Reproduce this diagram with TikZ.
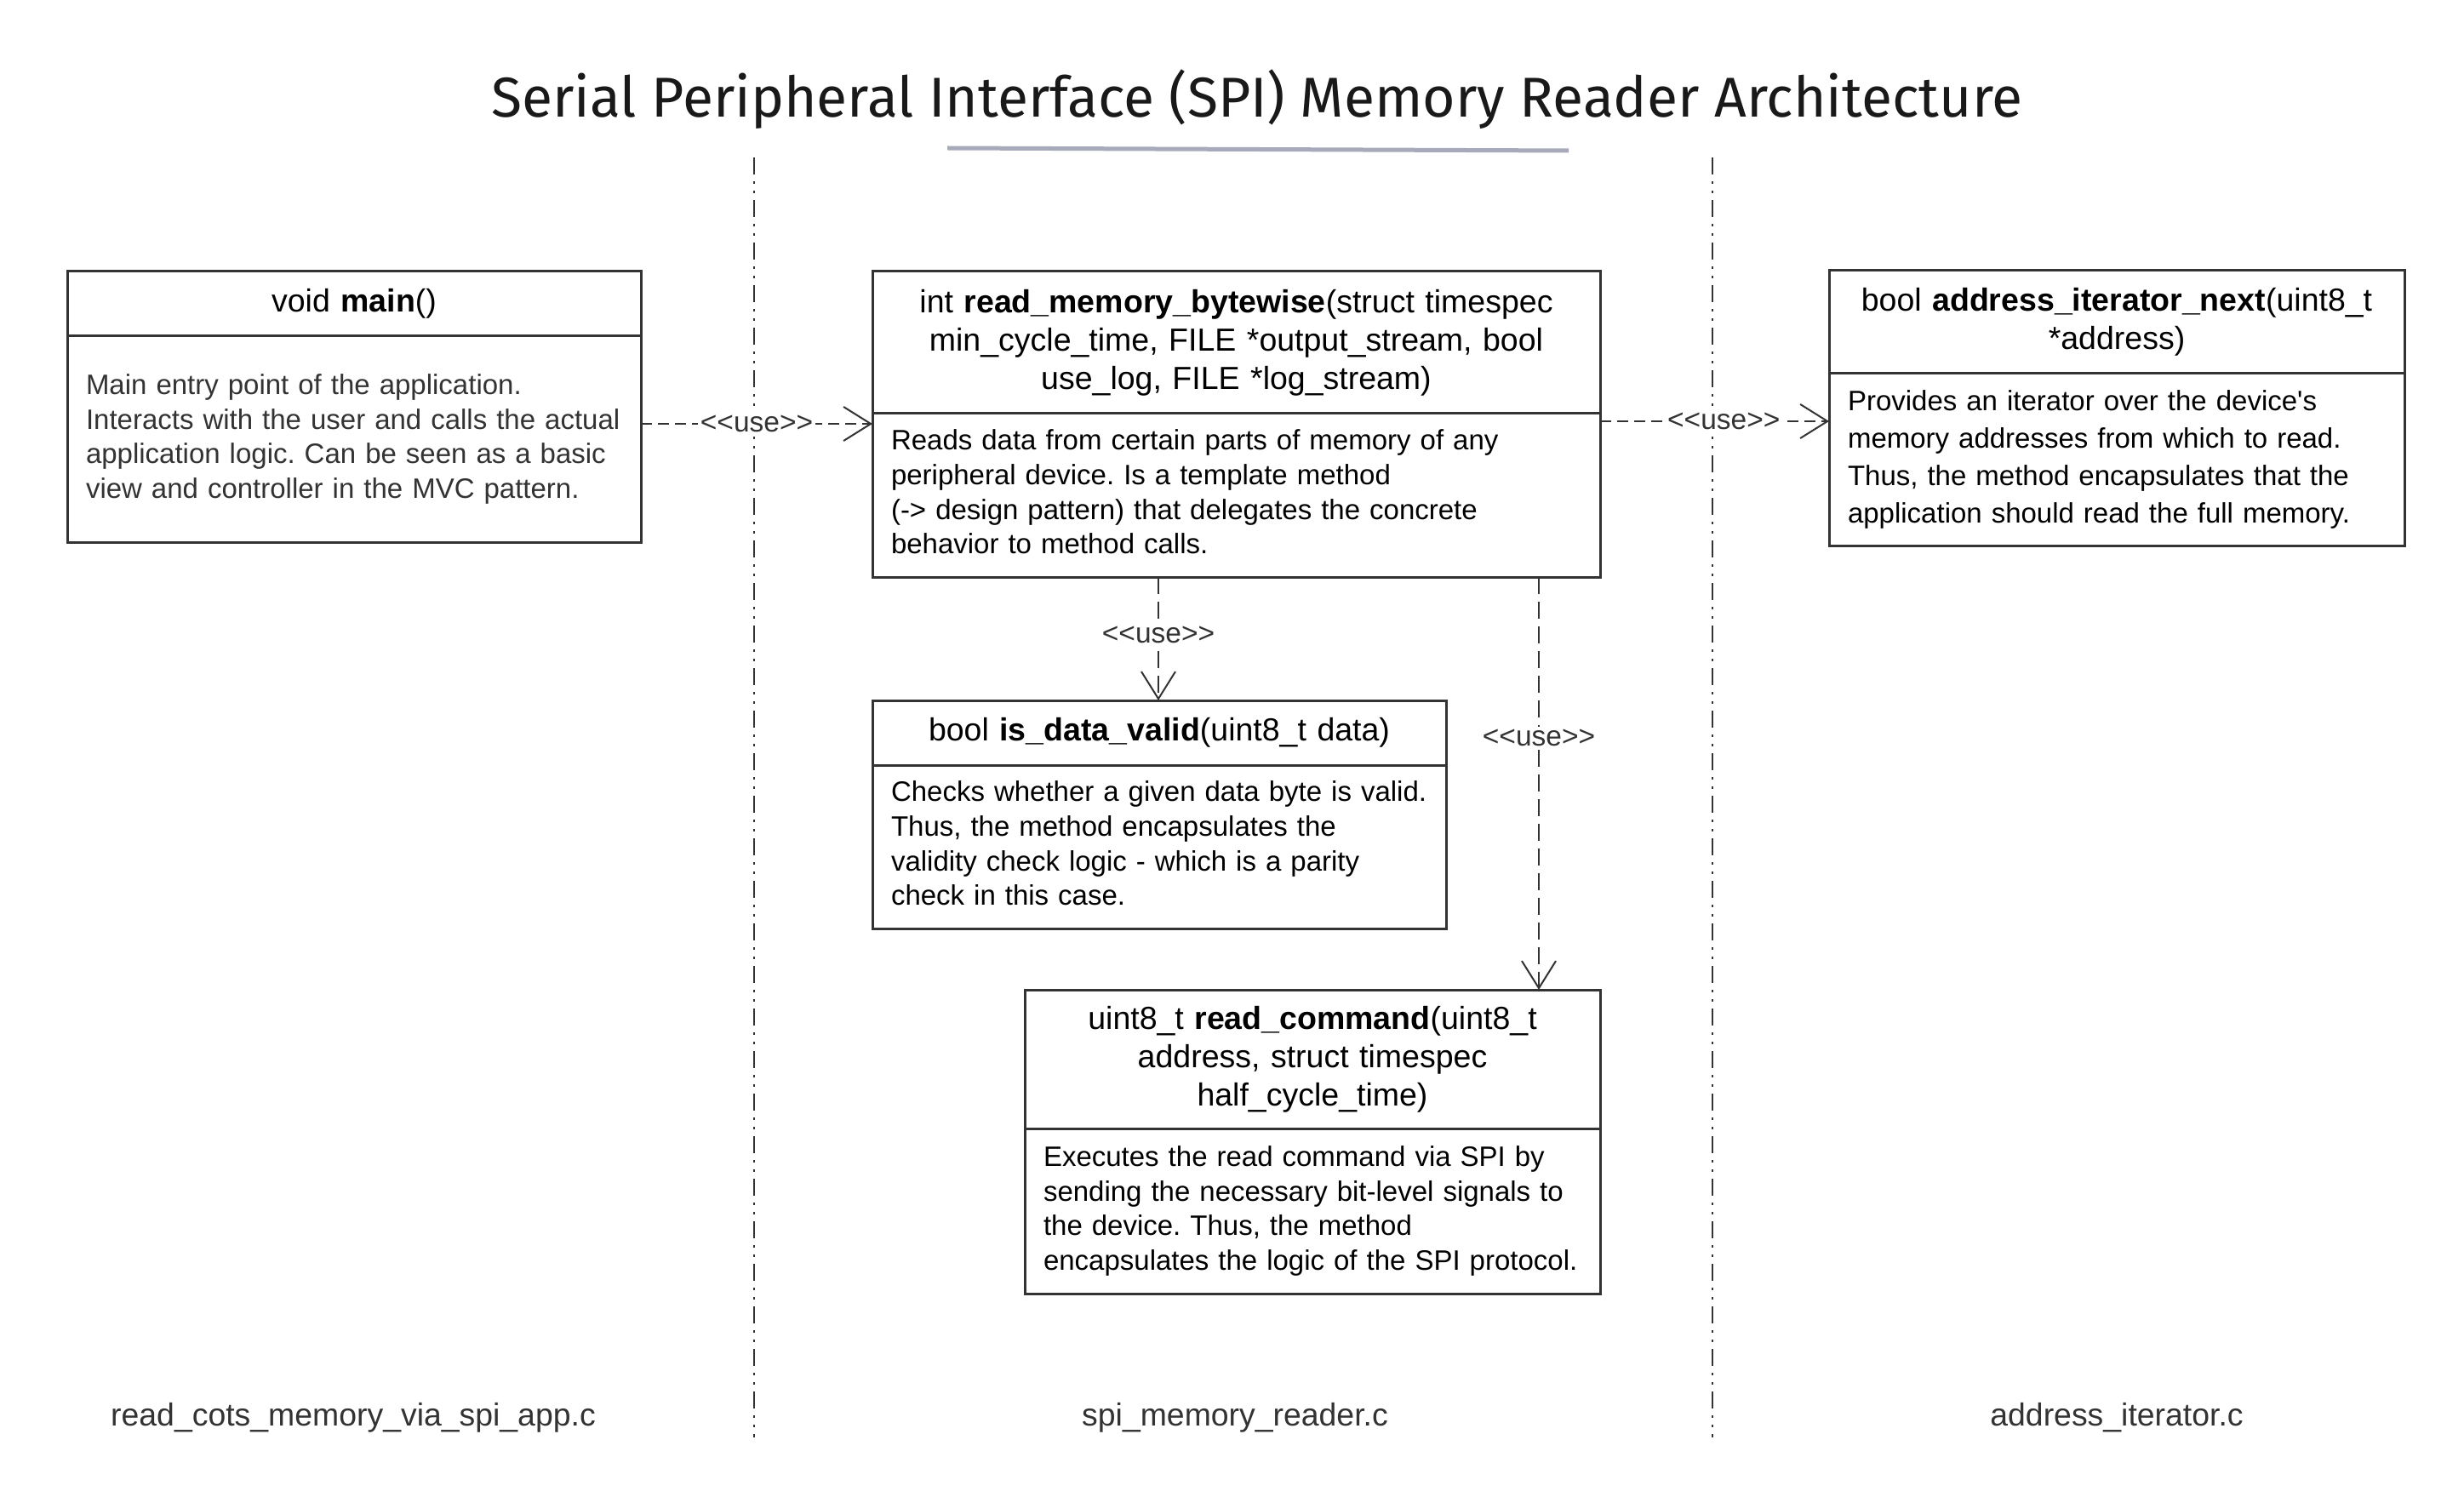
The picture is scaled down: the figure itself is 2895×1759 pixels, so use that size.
\documentclass[tikz,border=0pt]{standalone}
\usepackage{fontspec}
\setmainfont{Liberation Sans}
\newfontfamily\arialish{Liberation Sans}
\newfontfamily\titlefont{Fira Sans}
\usetikzlibrary{arrows.meta}
\definecolor{ln}{HTML}{333333}
\definecolor{uline}{RGB}{166,170,186}
\newcommand\oneline[1]{\mbox{#1}}
\newcommand\uselabel{<\kern0pt<use>\kern0pt>}
\frenchspacing
\begin{document}
\frenchspacing
\begin{tikzpicture}[x=0.5pt,y=-0.5pt,
  hdr/.style={draw=ln, line width=1.5pt, anchor=north west, outer sep=0pt, inner sep=0pt,
    align=center, font=\arialish\frenchspacing\fontsize{18.75}{22.5}\selectfont},
  bdy/.style={draw=ln, line width=1.5pt, anchor=north west, outer sep=0pt, inner xsep=11pt,
    inner ysep=0pt, align=left, font=\arialish\frenchspacing\fontsize{16.5}{20.3}\selectfont},
  dep/.style={draw=ln, line width=1pt, dash pattern=on 6.5pt off 3.5pt,
    -{Straight Barb[length=16pt,width=20pt,line width=1pt]}},
  vdep/.style={dep, dash pattern=on 10pt off 4.5pt},
  lbl/.style={fill=white, text=ln, inner sep=1.5pt, font=\arialish\fontsize{16.75}{20}\selectfont},
  lane/.style={draw=ln, line width=1.35pt,
    dash pattern=on 10pt off 4pt on 1.5pt off 4pt on 1.5pt off 4pt},
  fname/.style={text=ln, font=\arialish\fontsize{18.7}{22}\selectfont}]

\fill[white] (0,0) rectangle (2895,1759);
\useasboundingbox (0,0) rectangle (2895,1759);

% title
\node[anchor=base, text=black!90, font=\titlefont\fontsize{33}{40}\selectfont] (title) at (1477,138)
  {Serial Peripheral Interface (SPI) Memory Reader Architecture};
\draw[uline, line width=2.5pt] (1113,174) -- (1843,177);

% swimlane separators
\draw[lane] (886,185) -- (886,1689);
\draw[lane] (2012,185) -- (2012,1689);

% main
\node[hdr, text width=337pt, minimum height=38pt] (mainH) at (79,319) {void \textbf{main}()};
\node[bdy, text=ln, text width=315pt, minimum height=121pt] (mainB) at (mainH.south west)
  {\oneline{Main entry point of the application.}\\
   \oneline{Interacts with the user and calls the actual}\\
   \oneline{application logic. Can be seen as a basic}\\
   \oneline{view and controller in the MVC pattern.}};

% read_memory_bytewise
\node[hdr, text width=427.5pt, minimum height=83.5pt] (rmH) at (1025,319)
  {int \textbf{read\_memory\_bytewise}(struct timespec\\
   min\_cycle\_time, FILE *output\_stream, bool\\
   use\_log, FILE *log\_stream)};
\node[bdy, text width=405.5pt, minimum height=96pt] (rmB) at (rmH.south west)
  {\oneline{Reads data from certain parts of memory of any}\\
   \oneline{peripheral device. Is a template method}\\
   \oneline{(-> design pattern) that delegates the concrete}\\
   \oneline{behavior to method calls.}\vspace{4pt}};

% address_iterator_next
\node[hdr, text width=338pt, minimum height=60.5pt] (adH) at (2149,318)
  {bool \textbf{address\_iterator\_next}(uint8\_t\\{}*address)};
\node[bdy, text width=316pt, minimum height=101pt, font=\arialish\frenchspacing\fontsize{16.5}{22}\selectfont] (adB) at (adH.south west)
  {\oneline{Provides an iterator over the device's}\\
   \oneline{memory addresses from which to read.}\\
   \oneline{Thus, the method encapsulates that the}\\
   \oneline{application should read the full memory.}};

% is_data_valid
\node[hdr, text width=337pt, minimum height=38pt] (vaH) at (1025,823)
  {bool \textbf{is\_data\_valid}(uint8\_t data)};
\node[bdy, text width=315pt, minimum height=96pt] (vaB) at (vaH.south west)
  {\oneline{Checks whether a given data byte is valid.}\\
   \oneline{Thus, the method encapsulates the}\\
   \oneline{validity check logic - which is a parity}\\
   \oneline{check in this case.}\vspace{4pt}};

% read_command
\node[hdr, text width=338pt, minimum height=81.5pt] (rcH) at (1204,1163)
  {uint8\_t \textbf{read\_command}(uint8\_t\\ address, struct timespec\\ half\_cycle\_time)};
\node[bdy, text width=316pt, minimum height=97pt] (rcB) at (rcH.south west)
  {\oneline{Executes the read command via SPI by}\\
   \oneline{sending the necessary bit-level signals to}\\
   \oneline{the device. Thus, the method}\\
   \oneline{encapsulates the logic of the SPI protocol.}};

% helper coordinates for connector lines
\coordinate (y1) at (0,498);
\coordinate (y2) at (0,495);
\coordinate (x3) at (1361,0);
\coordinate (x4) at (1808,0);

% connectors
\draw[dep] (mainB.east |- y1) -- node[lbl, pos=0.5] {\uselabel} (rmB.west |- y1);
\draw[dep] (rmB.east |- y2) -- node[lbl, pos=0.54] {\uselabel} (adB.west |- y2);
\draw[vdep] (rmB.south -| x3) -- node[lbl, pos=0.47] {\uselabel} (vaH.north -| x3);
\draw[vdep] (rmB.south -| x4) -- node[lbl, pos=0.39] {\uselabel} (rcH.north -| x4);

% file names
\node[fname] (f1) at (415,1666) {read\_cots\_memory\_via\_spi\_app.c};
\node[fname] (f2) at (1451,1666) {spi\_memory\_reader.c};
\node[fname] (f3) at (2487,1666) {address\_iterator.c};
\end{tikzpicture}
\end{document}
